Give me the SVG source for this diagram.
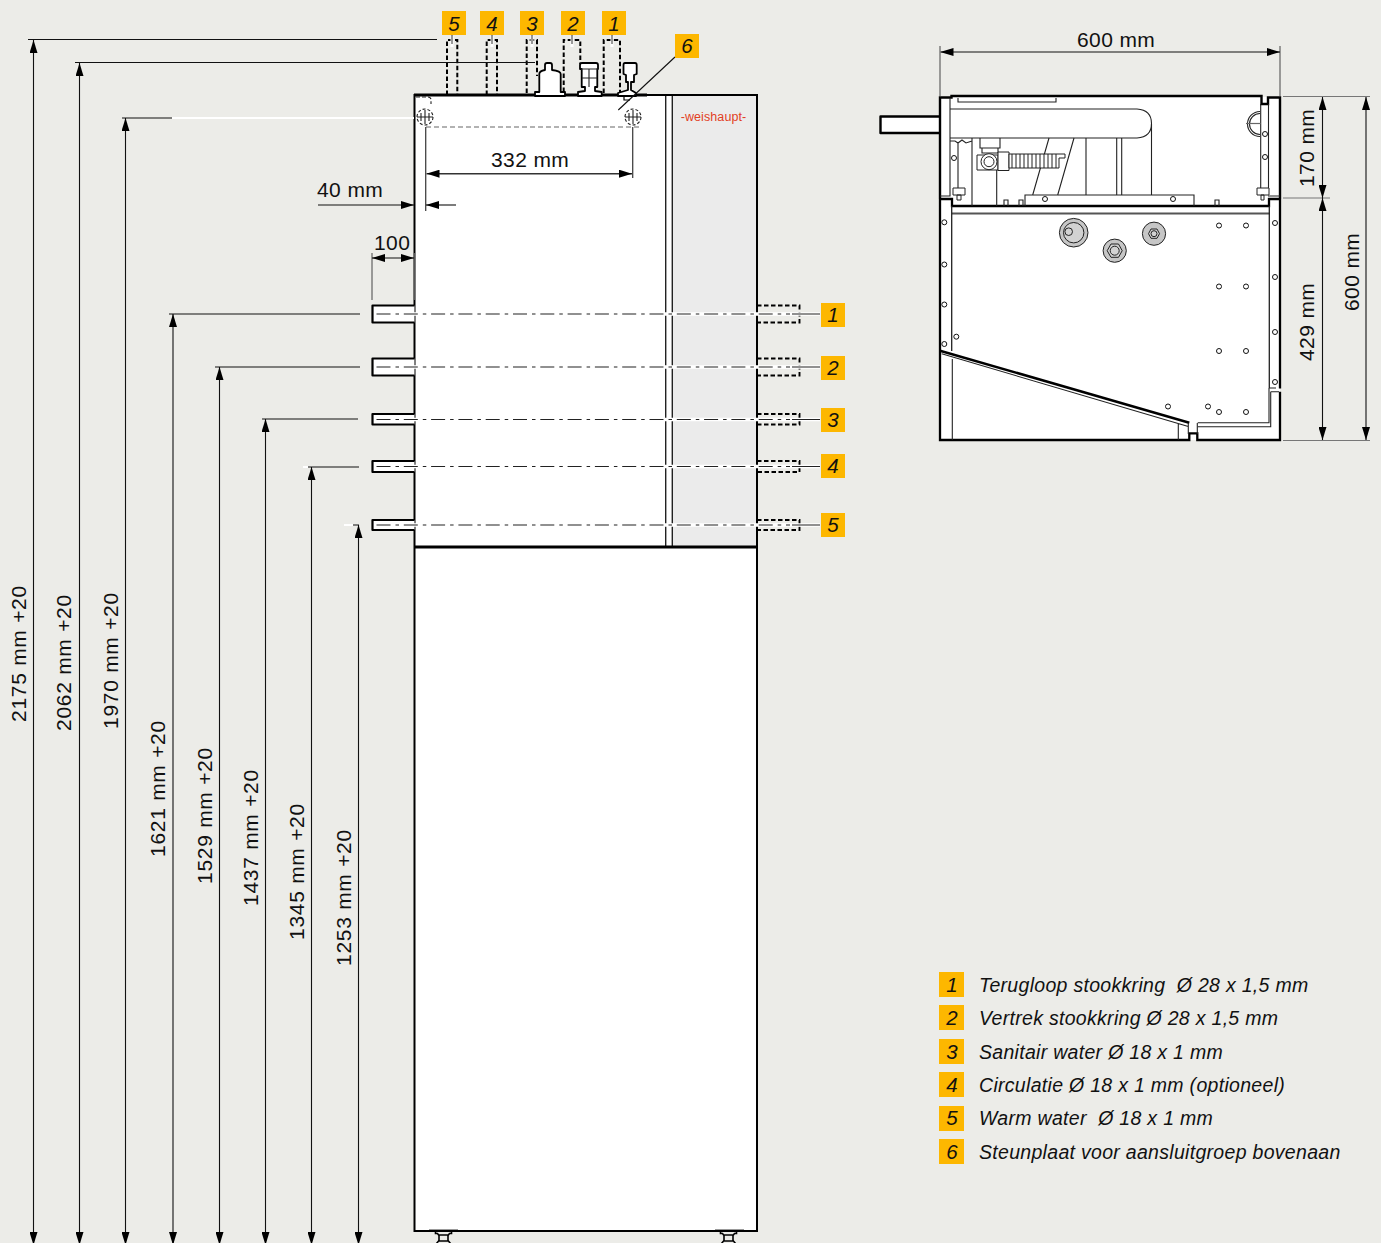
<svg xmlns="http://www.w3.org/2000/svg" width="1381" height="1243" viewBox="0 0 1381 1243">
<style>
text{font-family:"Liberation Sans",Arial,sans-serif;fill:#111}
.dim{font-size:21px;letter-spacing:.4px}
.dimv{font-size:21px;letter-spacing:.72px}
.num{font-size:20.5px;font-style:italic;text-anchor:middle}
.leg{font-size:19.5px;font-style:italic;letter-spacing:.3px}
.badge{fill:#fdb700}
.o{fill:none;stroke:#000;stroke-width:2.4}
.t{fill:none;stroke:#222;stroke-width:1.1}
.g{fill:none;stroke:#666;stroke-width:1.2}
.d{fill:none;stroke:#000;stroke-width:2;stroke-dasharray:4.500 2.500}
.w{fill:none;stroke:#fff;stroke-width:3.500}
.cl{fill:none;stroke:#222;stroke-width:1.2;stroke-dasharray:14 5 3.500 4.800}
.hole{fill:#fff;stroke:#111;stroke-width:1}
.part{fill:#fff;stroke:#000;stroke-width:1.800;stroke-linejoin:round}
.fit{stroke:#222;stroke-width:1}
</style>
<defs>
<marker id="ah" viewBox="0 0 13 8" refX="13" refY="4" markerWidth="13" markerHeight="8" markerUnits="userSpaceOnUse" orient="auto-start-reverse"><path d="M0 0L13 4L0 8Z" fill="#000"/></marker>
<path id="foot" d="M-8 0V2.500H-6L-4.500 4.500V9.500L-7 12.500M8 0V2.500H6L4.500 4.500V9.500L7 12.500M-4.500 4H4.500M-4.500 10H4.500"/>
</defs>
<rect width="1381" height="1243" fill="#ecece8"/>

<g id="cabinet">
<rect x="414.500" y="95" width="342.500" height="1136" fill="#fff"/>
<rect x="672" y="96" width="85" height="451" fill="#ebebeb"/>
<path class="t" style="stroke-width:1.400" d="M665.700 95V547M672.300 95V547"/>
<path class="o" style="stroke-width:2" d="M414.500 95H757V1231H414.500Z"/>
<path class="o" style="stroke-width:3" d="M414 95H647M414 547H757"/>
<text x="713.500" y="121" font-size="12.500" text-anchor="middle" style="fill:#e2401f;letter-spacing:.1px">-weishaupt-</text>
<path class="g" style="stroke-dasharray:5 3" d="M426 127H642"/>
<g class="t">
<circle cx="425" cy="117" r="8" stroke-dasharray="3 2"/><path d="M417 117H433M425 110V124M421 113V121M429 113V121"/>
<circle cx="633" cy="117" r="8" stroke-dasharray="3 2"/><path d="M625 117H641M633 110V124M629 113V121M637 113V121"/>
<path d="M416 97H428Q431 97 431 100V104" stroke-dasharray="4 2"/>
</g>
</g>

<g id="feet">
<path class="g" style="stroke:#999" d="M429 1229.500H458M715 1229.500H744"/>
<use href="#foot" x="443.500" y="1231" fill="none" stroke="#000" stroke-width="1.600"/>
<use href="#foot" x="728.500" y="1231" fill="none" stroke="#000" stroke-width="1.600"/>
</g>

<g id="top-connections">
<path class="d" d="M447 95V40H457.300V95M486.700 95V40H497V95M526.700 93V40H537V76M563.700 92V40H580.300V64M603.700 93V40H620V92"/>
<path fill="none" stroke="#fff" stroke-width="3" d="M452 36V47M492 36V47M532 36V47M572 36V47M612 36V47"/>
<path fill="none" stroke="#333" stroke-width="1" d="M452 35V44M492 35V44M532 35V44M572 35V44M612 35V44"/>
<path class="part" d="M535 96V92H539.300V74Q539.300 71 545 70V65Q545 63 547 63H550Q552 63 552 65V70Q560.700 71 560.700 74V92H565V96Z"/>
<path class="part" d="M578 96V92L585 91V87H581.700V69H580V65Q580 63 582 63H596Q598 63 598 65V69H597.300V87H595V91L601.700 92V96Z"/>
<path class="t" d="M581 69H598M589 69V87M582 78H597"/>
<path class="part" d="M618 96V93L628 90V82H626V75L623.500 74V65Q623.500 63 625 63H635Q636.700 63 636.700 65V74L634 75V82H631V90L636 93V96Z"/>
<path class="o" style="stroke-width:1.200" d="M624 95V100H630"/>
</g>

<g id="side-connections">
<path class="part" style="stroke-width:2.200" d="M414.500 305.500H372.500V322.500H414.500M414.500 358.500H372.500V375.500H414.500M414.500 414H372.500V424.500H414.500M414.500 461H372.500V472H414.500M414.500 520H372.500V530H414.500"/>
<path class="d" style="stroke-width:1.900" d="M757 305.500H799.500V322.500H757M757 358.500H799.500V375.500H757M757 414H799.500V424.500H757M757 461H799.500V472H757M757 520H799.500V530H757"/>
<path class="w" d="M376 314H820M376 367H820M376 419.500H820M376 466.500H820M376 525H820"/>
<path class="cl" d="M376.500 314H790M376.500 367H790M376.500 419.500H790M376.500 466.500H790M376.500 525H790"/>
<path fill="none" stroke="#222" stroke-width="1.200" d="M792 314H820M792 367H820M792 419.500H820M792 466.500H820M792 525H820"/>
</g>

<g id="connectors" fill="none" stroke="#111" stroke-width="1.100">
<path d="M28 39.500H437M75 62.500H535M122 118H172M169 314H360M215 367H360M262 419H358M308 467H359M353 525H359"/>
<path stroke="#fff" stroke-width="2" d="M172 118H414M303 467H308M344 525H353"/>
<path marker-start="url(#ah)" marker-end="url(#ah)" d="M33.500 40V1245"/>
<path marker-start="url(#ah)" marker-end="url(#ah)" d="M79.500 63V1245"/>
<path marker-start="url(#ah)" marker-end="url(#ah)" d="M125.500 118V1245"/>
<path marker-start="url(#ah)" marker-end="url(#ah)" d="M173 314V1245"/>
<path marker-start="url(#ah)" marker-end="url(#ah)" d="M219.500 367V1245"/>
<path marker-start="url(#ah)" marker-end="url(#ah)" d="M265.500 419V1245"/>
<path marker-start="url(#ah)" marker-end="url(#ah)" d="M311.500 467V1245"/>
<path marker-start="url(#ah)" marker-end="url(#ah)" d="M358.500 525V1245"/>
<path stroke="#444" stroke-width="1.300" d="M425.700 127V211M632.700 127V178"/>
<path marker-start="url(#ah)" marker-end="url(#ah)" d="M426.500 173.700H632" stroke="#333" stroke-width="1.400"/>
<path d="M318 205H414" marker-end="url(#ah)"/>
<path d="M456 205H426" marker-end="url(#ah)"/>
<path stroke="#555" d="M372 253V300M414.500 253V300"/>
<path marker-start="url(#ah)" marker-end="url(#ah)" d="M372 258H414"/>
<path d="M618.300 110L675 57"/>
<path stroke="#555" d="M940 46V96M1280 46V96"/>
<path marker-start="url(#ah)" marker-end="url(#ah)" d="M940.500 52H1280"/>
<path stroke="#777" d="M1283 96.500H1370M1283 198H1330M1283 440.500H1370"/>
<path marker-start="url(#ah)" marker-end="url(#ah)" d="M1322.500 97V198"/>
<path marker-start="url(#ah)" marker-end="url(#ah)" d="M1322.500 198V440"/>
<path marker-start="url(#ah)" marker-end="url(#ah)" d="M1366 97V440"/>
</g>

<g id="dim-labels">
<text class="dimv" transform="translate(26 722) rotate(-90)">2175 mm +20</text>
<text class="dimv" transform="translate(71 731) rotate(-90)">2062 mm +20</text>
<text class="dimv" transform="translate(118 729) rotate(-90)">1970 mm +20</text>
<text class="dimv" transform="translate(165 857) rotate(-90)">1621 mm +20</text>
<text class="dimv" transform="translate(212 884) rotate(-90)">1529 mm +20</text>
<text class="dimv" transform="translate(258 906) rotate(-90)">1437 mm +20</text>
<text class="dimv" transform="translate(304 940) rotate(-90)">1345 mm +20</text>
<text class="dimv" transform="translate(351 966) rotate(-90)">1253 mm +20</text>
<text class="dim" x="491" y="167">332 mm</text>
<text class="dim" x="317" y="197">40 mm</text>
<text class="dim" x="374" y="250">100</text>
<text class="dim" x="1077" y="47">600 mm</text>
<text class="dim" transform="translate(1314 187) rotate(-90)">170 mm</text>
<text class="dim" transform="translate(1314 361) rotate(-90)">429 mm</text>
<text class="dim" transform="translate(1359 311) rotate(-90)">600 mm</text>
</g>

<g id="top-view">
<path d="M941 97H1280V440H941Z" fill="#fff"/>
<path class="part" style="stroke-width:2.400" d="M940 116.500H880.500V133H940"/>
<path class="o" d="M940 199V97.500H951.500V96H1261.500V104H1268V97.500H1280V199"/>
<path class="o" d="M940 199H952V206H1269V199H1280M940 199V440H1189.300V433.300H1197.300V440H1280V391.700M1280 199V388.500" style="stroke-width:2.300"/>
<path class="g" style="stroke-width:2;stroke:#555" d="M952 213.500H1270"/>
<path class="t" d="M950 98V196H940M1260.700 104V190M1268.500 104V190M1268 196H1280M958 98V102H1056V98M950 109H1137Q1151.500 110 1151.500 123.500Q1151.500 137 1137 138H950"/>
<path class="t" d="M1151.500 124V195M1116.700 138V195M1121.700 138V195M1086 138V195M1074 138L1057.700 195M1049 138L1032.700 195M972 138V206M996.700 170V206M958 142V189M950 141H955L958 143L962 140L966 143L972 141"/>
<path class="t" d="M1025 206V195H1194V206M1004 206V200H1008V206M1019 206V200H1023V206M1215 206V200H1219V206"/>
<path class="t" d="M980 138V148H1000V138M982 148V153H998V148"/>
<g fill="#fff" class="fit">
<path d="M977 155H998V170H977Z"/><path d="M998 152H1009V170.500H998Z"/><circle cx="989" cy="161.700" r="8"/><circle cx="989" cy="161.700" r="5"/>
<path d="M1009 154H1065V158H1059V168H1009Z"/>
<path d="M1012 154V168M1016 154V168M1020 154V168M1024 154V168M1028 154V168M1032 154V168M1036 154V168M1040 154V168M1044 154V168M1048 154V168M1052 154V168M1056 154V168"/>
<path d="M953 188H965V195H953ZM957 195H961V200H957ZM1257 188H1269V195H1257ZM1261 195H1264V200H1261Z"/>
</g>
<path d="M1260 113.500A10.500 10.500 0 1 0 1260 134.500" class="t"/>
<path d="M1260 111.500A12.500 12.500 0 1 0 1260 136.500" class="t"/>
<path class="g" d="M1246 123.500H1260.700"/>
<g class="hole">
<circle cx="954" cy="158" r="2.500"/><circle cx="1265" cy="134" r="2.500"/><circle cx="1265" cy="157" r="2.500"/><circle cx="1045" cy="199" r="2.500"/><circle cx="1173" cy="199" r="2.500"/>
</g>
<path class="t" style="stroke-width:1.300" d="M951.700 206V351M1269.300 206V388"/>
<path class="t" d="M1269 388H1276M1197.700 422.700H1269V388M1270.700 391.700H1279M1197.700 426.700H1270.700V391.700"/>
<path class="o" style="stroke-width:2.500" d="M940 350.700L1189.300 422.700"/>
<path class="t" d="M941.700 353.800L1188.300 426.500M952.300 359V440M1178.300 424V440M1188.300 423V434M1197.300 423V434"/>
<g class="hole">
<circle cx="944.300" cy="222.300" r="2.500"/><circle cx="944.300" cy="264.500" r="2.500"/><circle cx="944.300" cy="304.500" r="2.500"/><circle cx="944.300" cy="344" r="2.500"/><circle cx="956.300" cy="336.700" r="2.500"/>
<circle cx="1275" cy="223" r="2.500"/><circle cx="1275" cy="277" r="2.500"/><circle cx="1275" cy="332" r="2.500"/><circle cx="1275" cy="382" r="2.500"/>
<circle cx="1219" cy="225.500" r="2.500"/><circle cx="1246" cy="225.500" r="2.500"/><circle cx="1219" cy="286.500" r="2.500"/><circle cx="1246" cy="286.500" r="2.500"/><circle cx="1219" cy="351" r="2.500"/><circle cx="1246" cy="351" r="2.500"/><circle cx="1219" cy="412" r="2.500"/><circle cx="1246" cy="412" r="2.500"/><circle cx="1168" cy="406.500" r="2.500"/><circle cx="1208" cy="406.500" r="2.500"/>
</g>
<g class="fit">
<circle cx="1073.700" cy="232.700" r="14.300" fill="#c6c6c6"/><circle cx="1073.700" cy="232.700" r="10.200" fill="#d2d2d2"/><circle cx="1068.700" cy="231.700" r="3.800" fill="#d2d2d2"/>
<circle cx="1114.700" cy="250.700" r="11.600" fill="#c6c6c6"/><path d="M1107.200 250.700L1111 244H1118.500L1122.200 250.700L1118.500 257.300H1111Z" fill="#d2d2d2"/><circle cx="1114.700" cy="250.700" r="4.500" fill="#d2d2d2"/>
<circle cx="1154" cy="233.700" r="11.600" fill="#c6c6c6"/><path d="M1148.500 233.700L1151 229H1157L1159.500 233.700L1157 238.300H1151Z" fill="#d2d2d2"/><circle cx="1154" cy="233.700" r="3" fill="#d2d2d2"/>
</g>
</g>

<g id="callouts">
<g id="c5t"><rect class="badge" x="442" y="11" width="24" height="24"/><text class="num" x="454" y="31">5</text></g>
<g id="c4t"><rect class="badge" x="480" y="11" width="24" height="24"/><text class="num" x="492" y="31">4</text></g>
<g id="c3t"><rect class="badge" x="520" y="11" width="24" height="24"/><text class="num" x="532" y="31">3</text></g>
<g id="c2t"><rect class="badge" x="561" y="11" width="24" height="24"/><text class="num" x="573" y="31">2</text></g>
<g id="c1t"><rect class="badge" x="602" y="11" width="24" height="24"/><text class="num" x="614" y="31">1</text></g>
<g id="c6t"><rect class="badge" x="675" y="34" width="24" height="24"/><text class="num" x="687" y="53">6</text></g>
<g id="c1s"><rect class="badge" x="821" y="303" width="24" height="24"/><text class="num" x="833" y="322">1</text></g>
<g id="c2s"><rect class="badge" x="821" y="356" width="24" height="24"/><text class="num" x="833" y="375">2</text></g>
<g id="c3s"><rect class="badge" x="821" y="408" width="24" height="24"/><text class="num" x="833" y="427">3</text></g>
<g id="c4s"><rect class="badge" x="821" y="454" width="24" height="24"/><text class="num" x="833" y="473">4</text></g>
<g id="c5s"><rect class="badge" x="821" y="513" width="24" height="24"/><text class="num" x="833" y="532">5</text></g>
</g>

<g id="legend">
<g id="l1"><rect class="badge" x="939" y="972" width="25" height="25"/><text class="num" x="952" y="992">1</text><text class="leg" x="979" y="992">Terugloop stookkring&#160; Ø 28 x 1,5 mm</text></g>
<g id="l2"><rect class="badge" x="939" y="1005" width="25" height="25"/><text class="num" x="952" y="1025">2</text><text class="leg" x="979" y="1025">Vertrek stookkring Ø 28 x 1,5 mm</text></g>
<g id="l3"><rect class="badge" x="939" y="1039" width="25" height="25"/><text class="num" x="952" y="1059">3</text><text class="leg" x="979" y="1059">Sanitair water Ø 18 x 1 mm</text></g>
<g id="l4"><rect class="badge" x="939" y="1072" width="25" height="25"/><text class="num" x="952" y="1092">4</text><text class="leg" x="979" y="1092">Circulatie Ø 18 x 1 mm (optioneel)</text></g>
<g id="l5"><rect class="badge" x="939" y="1106" width="25" height="25"/><text class="num" x="952" y="1125">5</text><text class="leg" x="979" y="1125">Warm water&#160; Ø 18 x 1 mm</text></g>
<g id="l6"><rect class="badge" x="939" y="1139" width="25" height="25"/><text class="num" x="952" y="1159">6</text><text class="leg" x="979" y="1159">Steunplaat voor aansluitgroep bovenaan</text></g>
</g>
</svg>
